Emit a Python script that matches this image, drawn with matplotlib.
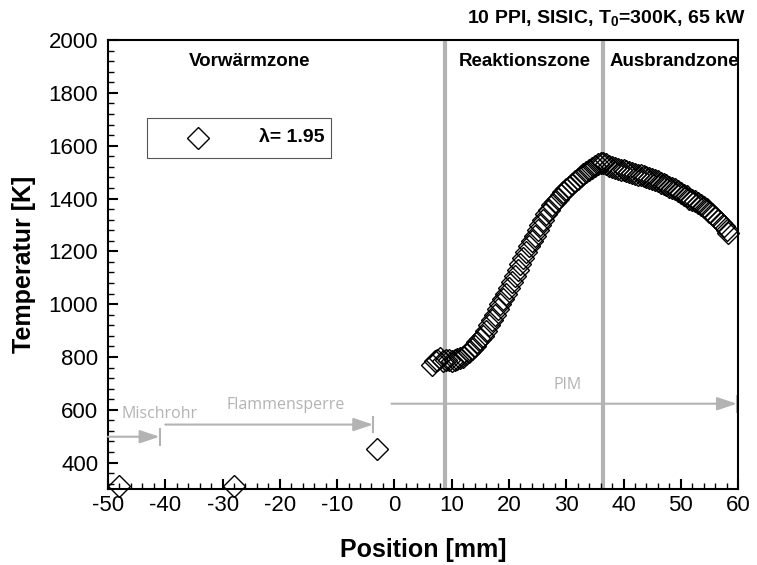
import numpy as np
import matplotlib.pyplot as plt
from matplotlib.patches import Rectangle
from matplotlib.ticker import MultipleLocator

plt.rcParams['font.family'] = 'Liberation Sans'
plt.rcParams['axes.unicode_minus'] = False
plt.rcParams['mathtext.fontset'] = 'custom'
plt.rcParams['mathtext.bf'] = 'Liberation Sans:bold'
plt.rcParams['mathtext.rm'] = 'Liberation Sans'

pos = [-48, -28, -3,
       6.5, 7.0, 7.5, 8.0, 8.5, 9.0, 9.5, 10.0, 10.5, 11.0, 11.5, 12.0, 12.5, 13.0,
       13.5, 14.0, 14.5, 15.0, 15.5, 16.0, 16.5, 17.0, 17.5, 18.0, 18.5, 19.0,
       19.5, 20.0, 20.5, 21.0, 21.5, 22.0, 22.5, 23.0, 23.5, 24.0, 24.5, 25.0,
       25.5, 26.0, 26.5, 27.0, 27.5, 28.0, 28.5, 29.0, 29.5, 30.0, 30.5, 31.0,
       31.5, 32.0, 32.5, 33.0, 33.5, 34.0, 34.5, 35.0, 35.5, 36.0, 36.5, 37.0,
       37.5, 38.0, 38.5, 39.0, 39.5, 40.0, 40.5, 41.0, 41.5, 42.0, 42.5, 43.0,
       43.5, 44.0, 44.5, 45.0, 45.5, 46.0, 46.5, 47.0, 47.5, 48.0, 48.5, 49.0,
       49.5, 50.0, 50.5, 51.0, 51.5, 52.0, 52.5, 53.0, 53.5, 54.0, 54.5, 55.0,
       55.5, 56.0, 56.5, 57.0, 57.5, 58.0, 58.3]
temp = [310, 310, 450,
        770, 785, 790, 795, 785, 790, 788, 785, 790, 792, 795, 800, 810, 820,
        830, 842, 855, 868, 880, 900, 920, 940, 960, 980, 1000, 1020,
        1040, 1062, 1085, 1108, 1130, 1152, 1175, 1198, 1220, 1240, 1260, 1280,
        1300, 1320, 1340, 1358, 1375, 1388, 1400, 1412, 1425, 1435, 1445, 1455,
        1465, 1475, 1485, 1492, 1500, 1508, 1515, 1522, 1530, 1535, 1535, 1530,
        1525, 1520, 1515, 1512, 1510, 1508, 1505, 1500, 1495, 1492, 1490, 1488,
        1485, 1482, 1478, 1474, 1470, 1465, 1460, 1455, 1450, 1445, 1440, 1435,
        1430, 1422, 1415, 1408, 1400, 1395, 1390, 1382, 1375, 1368, 1360, 1350,
        1340, 1330, 1320, 1308, 1295, 1280, 1270]

zone_lines = [8.8, 36.5]
zone_names = ['Vorwärmzone', 'Reaktionszone', 'Ausbrandzone']
zone_x = [-25.2, 22.8, 48.9]

gray = '#b3b3b3'

fig = plt.figure(figsize=(7.57, 5.65), dpi=100)
ax = fig.add_axes([0.1427, 0.1345, 0.8323, 0.7945])

for xv in zone_lines:
    ax.axvline(xv, color=gray, lw=3, zorder=1)

ax.plot(pos, temp, linestyle='none', marker='D', markersize=11.5, mfc='none',
        mec='black', mew=1.0, clip_on=False, zorder=3)

for name, xv in zip(zone_names, zone_x):
    ax.text(xv, 1920, name, ha='center', va='center', fontsize=13.5,
            fontweight='bold')

# gray arrows for the burner sections
def section(x0, x1, y, label, lx, ly):
    ax.annotate('', xy=(x1, y), xytext=(x0, y),
                arrowprops=dict(arrowstyle='-|>,head_length=1.2,head_width=0.4',
                                color=gray, lw=1.5, shrinkA=0, shrinkB=0),
                annotation_clip=False)
    ax.plot([x1, x1], [y - 30, y + 30], color=gray, lw=1.5, clip_on=False)
    ax.text(lx, ly, label, ha='center', va='center', color=gray,
            fontsize=11.5, family='Open Sans')

section(-50, -41, 498, 'Mischrohr', -41, 585)
section(-40, -3.7, 544, 'Flammensperre', -19, 620)
section(-0.5, 59.8, 623, 'PIM', 30.2, 693)

# legend box
ax.add_patch(Rectangle((0.062, 0.737), 0.292, 0.089, transform=ax.transAxes,
                       fill=False, ec='#555555', lw=0.8))
ax.plot([0.143], [0.782], transform=ax.transAxes, marker='D', markersize=11.5,
        mfc='none', mec='black', mew=1.0, linestyle='none')
ax.text(0.344, 0.782, 'λ= 1.95', transform=ax.transAxes, ha='right',
        va='center', fontsize=14, fontweight='bold')

ax.set_xlim(-50, 60)
ax.set_ylim(300, 2000)
ax.xaxis.set_major_locator(MultipleLocator(10))
ax.xaxis.set_minor_locator(MultipleLocator(2))
ax.yaxis.set_major_locator(MultipleLocator(200))
ax.yaxis.set_minor_locator(MultipleLocator(40))
ax.tick_params(which='both', direction='in', top=False, right=False)
ax.tick_params(which='major', length=7, width=1.5, labelsize=16)
ax.tick_params(axis='y', which='major', pad=7)
ax.tick_params(axis='x', which='major', pad=4)
ax.tick_params(which='minor', length=4, width=1)
for sp in ax.spines.values():
    sp.set_linewidth(1.5)

ax.set_xlabel('Position [mm]', fontsize=18, fontweight='bold', labelpad=16)
ax.set_ylabel('Temperatur [K]', fontsize=18, fontweight='bold', labelpad=9)

fig.text(746 / 757, 1 - 19 / 565, r'10 PPI, SISIC, T$_\mathbf{0}$=300K, 65 kW',
         ha='right', va='center', fontsize=14, fontweight='bold')

fig.savefig('out.png', dpi=100)
